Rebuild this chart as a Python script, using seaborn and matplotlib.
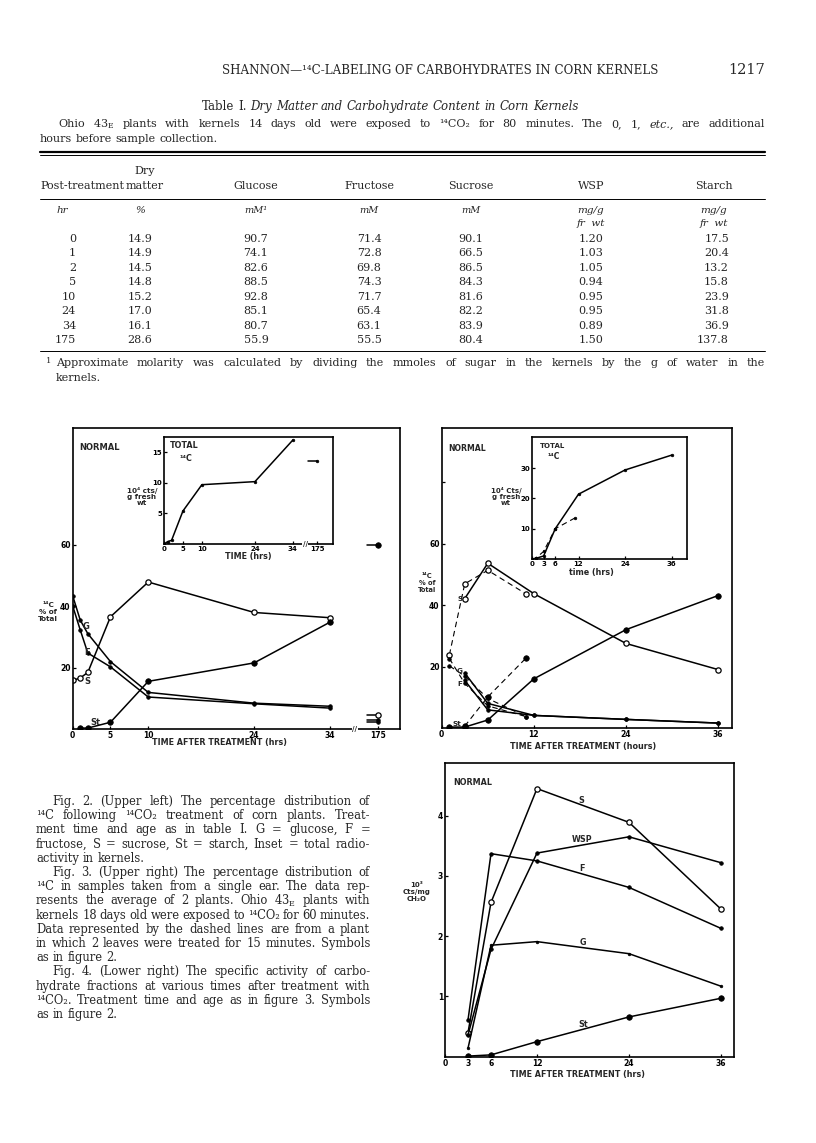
import numpy as np
import pandas as pd
import matplotlib
matplotlib.use("Agg")
import matplotlib.pyplot as plt
import seaborn as sns
from matplotlib.lines import Line2D

# ---------------- Table I ----------------
table_hours = ["0", "1", "2", "5", "10", "24", "34", "175"]
dry_matter = [14.9, 14.9, 14.5, 14.8, 15.2, 17.0, 16.1, 28.6]
glucose = [90.7, 74.1, 82.6, 88.5, 92.8, 85.1, 80.7, 55.9]
fructose = [71.4, 72.8, 69.8, 74.3, 71.7, 65.4, 63.1, 55.5]
sucrose = [90.1, 66.5, 86.5, 84.3, 81.6, 82.2, 83.9, 80.4]
wsp = [1.20, 1.03, 1.05, 0.94, 0.95, 0.95, 0.89, 1.50]
starch = [17.5, 20.4, 13.2, 15.8, 23.9, 31.8, 36.9, 137.8]

# ---------------- Fig. 2: % of total 14C (0-34 h, plus 175 h) ----------------
f2_hours = [0, 1, 2, 5, 10, 24, 34]
f2_sucrose = [15.8, 16.6, 18.4, 36.5, 47.8, 37.9, 36.2]
f2_glucose = [43.3, 35.4, 31.0, 21.9, 11.9, 8.4, 7.4]
f2_fructose = [40.0, 32.2, 24.7, 20.2, 10.4, 8.2, 6.8]
f2_starch = [np.nan, 0.3, 0.3, 2.2, 15.5, 21.5, 34.7]
f2_at175 = [4.4, 2.9, 2.3, 60.0]  # S, G, F, St
f2_total = [0, 0.4, 0.6, 5.4, 9.7, 10.2, 17.0]
f2_total_175 = 13.6

# ---------------- Fig. 3 ----------------
f3_hours = [1, 3, 6, 12, 24, 36]
f3_sucrose = [np.nan, 42.1, 53.6, 43.7, 27.5, 19.0]
f3_glucose = [np.nan, 17.9, 8.0, 4.1, 2.8, 1.6]
f3_fructose = [np.nan, 15.5, 5.9, 4.1, 2.8, 1.6]
f3_starch = [0.3, 0.3, 2.6, 16.0, 32.0, 43.1]
f3d_hours = [1, 3, 6, 11]
f3d_sucrose = [23.8, 46.9, 51.3, 43.6]
f3d_glucose = [20.2, 16.9, 9.6, 3.7]
f3d_fructose = [22.6, 14.5, 7.2, 3.7]
f3d_starch = [np.nan, 0.6, 10.1, 22.8]
f3_total_hours = [0, 1, 3, 6, 12, 24, 36]
f3_total = [0, 0.2, 1.0, 10.0, 21.4, 29.4, 34.3]
f3d_total_hours = [0, 1, 3, 6, 11]
f3d_total = [0, 0.3, 2.5, 10.0, 13.5]

# ---------------- Fig. 4: 10^3 cts/mg CH2O ----------------
f4_hours = [3, 6, 12, 24, 36]
f4_sucrose = [0.40, 2.56, 4.45, 3.89, 2.45]
f4_wsp = [0.36, 1.78, 3.38, 3.65, 3.22]
f4_fructose = [0.61, 3.37, 3.25, 2.81, 2.13]
f4_glucose = [0.14, 1.85, 1.91, 1.71, 1.17]
f4_starch = [0.01, 0.03, 0.25, 0.66, 0.97]

W, H = 816, 1143
sns.set_style("white")
plt.rcParams["font.family"] = ["DejaVu Sans"]
plt.rcParams["mathtext.fontset"] = "dejavuserif"

fig = plt.figure(figsize=(W / 100, H / 100), dpi=100)
fig.patch.set_facecolor("white")
renderer = fig.canvas.get_renderer()

SERIF = "DejaVu Serif"
SANS = "DejaVu Sans"


def fx(x):
    return x / W


def fy(y):
    return 1 - y / H


def put(x, y, s, size=8, ha="left", style="normal", weight="normal", family=SERIF, **kw):
    return fig.text(fx(x), fy(y), s, fontsize=size, ha=ha, va="baseline",
                    fontstyle=style, fontweight=weight, family=family, **kw)


def words(line, x0, x1, y, size=8, justify=True, align="left"):
    toks = [t for t in line.split(" ") if t]
    arts, widths = [], []
    for t in toks:
        style = "normal"
        if t.startswith("_"):
            t, style = t[1:], "italic"
        a = put(0, y, t, size=size, style=style)
        arts.append(a)
        widths.append(a.get_window_extent(renderer).width)
    space = 0.32 * size * 100 / 72
    if justify and len(toks) > 1:
        gap = (x1 - x0 - sum(widths)) / (len(toks) - 1)
    else:
        gap = space
    total = sum(widths) + gap * (len(toks) - 1)
    x = x0 if align == "left" else (x0 + x1 - total) / 2
    for a, w in zip(arts, widths):
        a.set_x(fx(x))
        x += w + gap


def hrule(y, x0=40, x1=765, lw=0.7):
    fig.add_artist(Line2D([fx(x0), fx(x1)], [fy(y), fy(y)],
                          transform=fig.transFigure, color="black", lw=lw))


# ---------------- page header and table ----------------
put(440, 74, "SHANNON—¹⁴C-LABELING OF CARBOHYDRATES IN CORN KERNELS", size=8.6, ha="center")
put(765, 74, "1217", size=10.5, ha="right")
words("Table I. _Dry _Matter _and _Carbohydrate _Content _in _Corn _Kernels", 40, 740, 110,
      size=8.5, justify=False, align="center")
words("Ohio 43$_\\mathrm{E}$ plants with kernels 14 days old were exposed to ¹⁴CO₂ for 80 minutes. "
      "The 0, 1, _etc., are additional", 58, 765, 127, size=8)
words("hours before sample collection.", 40, 765, 142, size=8, justify=False)
hrule(152, lw=1.6)
hrule(155.5, lw=0.7)

cols = [140, 256, 369, 471, 591, 714]
put(145, 174, "Dry", size=8, ha="center")
put(40, 189, "Post-treatment", size=8)
put(145, 189, "matter", size=8, ha="center")
for cx, name in zip(cols[1:], ["Glucose", "Fructose", "Sucrose", "WSP", "Starch"]):
    put(cx, 189, name, size=8, ha="center")
hrule(199)
put(62, 213, "hr", size=7.5, ha="center", style="italic")
put(cols[0], 213, "%", size=7.5, ha="center", style="italic")
put(cols[1], 213, "mM¹", size=7, ha="center", style="italic")
put(cols[2], 213, "mM", size=7, ha="center", style="italic")
put(cols[3], 213, "mM", size=7, ha="center", style="italic")
for cx in cols[4:]:
    put(cx, 213, "mg/g", size=7.5, ha="center", style="italic")
    put(cx, 226, "fr  wt", size=7.5, ha="center", style="italic")

for i, hr in enumerate(table_hours):
    y = 242 + 14.45 * i
    put(76, y, hr, size=8, ha="right")
    put(cols[0], y, f"{dry_matter[i]:.1f}", size=8, ha="center")
    put(cols[1], y, f"{glucose[i]:.1f}", size=8, ha="center")
    put(cols[2], y, f"{fructose[i]:.1f}", size=8, ha="center")
    put(cols[3], y, f"{sucrose[i]:.1f}", size=8, ha="center")
    put(cols[4], y, f"{wsp[i]:.2f}", size=8, ha="center")
    put(729, y, f"{starch[i]:.1f}", size=8, ha="right")
hrule(351)
put(46, 363, "1", size=6)
words("Approximate molarity was calculated by dividing the mmoles of sugar in the kernels by the g of "
      "water in the", 56, 765, 366, size=8)
words("kernels.", 56, 765, 381, size=8, justify=False)

# ---------------- captions ----------------
caption = [
    ("Fig. 2. (Upper left) The percentage distribution of", True, True),
    ("¹⁴C following ¹⁴CO₂ treatment of corn plants. Treat-", False, True),
    ("ment time and age as in table I. G = glucose, F =", False, True),
    ("fructose, S = sucrose, St = starch, Inset = total radio-", False, True),
    ("activity in kernels.", False, False),
    ("Fig. 3. (Upper right) The percentage distribution of", True, True),
    ("¹⁴C in samples taken from a single ear. The data rep-", False, True),
    ("resents the average of 2 plants. Ohio 43$_\\mathrm{E}$ plants with", False, True),
    ("kernels 18 days old were exposed to ¹⁴CO₂ for 60 minutes.", False, True),
    ("Data represented by the dashed lines are from a plant", False, True),
    ("in which 2 leaves were treated for 15 minutes. Symbols", False, True),
    ("as in figure 2.", False, False),
    ("Fig. 4. (Lower right) The specific activity of carbo-", True, True),
    ("hydrate fractions at various times after treatment with", False, True),
    ("¹⁴CO₂. Treatment time and age as in figure 3. Symbols", False, True),
    ("as in figure 2.", False, False),
]
for i, (line, indent, just) in enumerate(caption):
    words(line, 52 if indent else 36, 370, 805 + 14.2 * i, size=8.3, justify=just)


# ---------------- figures ----------------
def ax_px(l, t, r, b):
    return fig.add_axes([fx(l), fy(b), (r - l) / W, (b - t) / H])


MARKS = {
    "open": dict(marker="o", markersize=3.8, markerfacecolor="white", markeredgewidth=0.9),
    "dot": dict(marker="o", markersize=2.6, markerfacecolor="black", markeredgewidth=0.5),
    "small": dict(marker="o", markersize=2.0, markerfacecolor="black", markeredgewidth=0.4),
    "big": dict(marker="o", markersize=4.0, markerfacecolor="black", markeredgewidth=0.5),
}


def series(ax, x, y, kind, dashed=False, lw=1.1, **kw):
    sns.lineplot(x=x, y=y, ax=ax, color="black", lw=lw if not dashed else 0.8,
                 linestyle=(0, (5, 3.5)) if dashed else "-", markeredgecolor="black",
                 errorbar=None, sort=False, **MARKS[kind], **kw)


def style_ax(ax, size=5.5):
    for sp in ax.spines.values():
        sp.set_visible(True)
        sp.set_linewidth(1.2)
        sp.set_color("black")
    ax.tick_params(direction="in", length=2.5, width=0.9, labelsize=size, pad=1.5,
                   colors="black", left=True, bottom=True)
    ax.set_xlabel("")
    ax.set_ylabel("")
    ax.grid(False)
    for lab in ax.get_xticklabels() + ax.get_yticklabels():
        lab.set_fontweight("bold")
        lab.set_family(SANS)


def label(ax, x, y, s, size=5.5, coords="data", ha="center"):
    tr = ax.transData if coords == "data" else ax.transAxes
    ax.text(x, y, s, transform=tr, fontsize=size, fontweight="bold", family=SANS,
            ha=ha, va="center", zorder=5)


def axis_break(ax, x):
    ax.text(x, 0, "//", transform=ax.transData, fontsize=5, fontweight="bold", ha="center",
            va="center", clip_on=False, zorder=6,
            bbox=dict(fc="white", ec="none", pad=0.4))


def ftext(x, y, s, size=5.5, **kw):
    fig.text(fx(x), fy(y), s, fontsize=size, fontweight="bold", family=SANS,
             ha="center", va="center", **kw)


# Fig. 2 main
LATE = 40.4
ax2 = ax_px(72.7, 428, 400, 729)
series(ax2, f2_hours, f2_sucrose, "open")
series(ax2, f2_hours, f2_glucose, "dot")
series(ax2, f2_hours, f2_fructose, "dot")
series(ax2, f2_hours, f2_starch, "big")
for v, kind in zip(f2_at175, ["open", "dot", "dot", "big"]):
    series(ax2, [LATE - 1.5, LATE], [v, v], kind, markevery=[1])
ax2.set_xlim(0, 43.3)
ax2.set_ylim(0, 97.9)
ax2.set_xticks([0, 5, 10, 24, 34, LATE], ["0", "5", "10", "24", "34", "175"])
ax2.set_yticks([20, 40, 60], ["20", "40", "60"])
style_ax(ax2)
axis_break(ax2, 37.3)
label(ax2, 0.02, 0.934, "NORMAL", size=6, coords="axes", ha="left")
label(ax2, 1.75, 33.3, "G", size=6)
label(ax2, 1.9, 24.8, "F", size=6)
label(ax2, 1.95, 15.6, "S", size=6)
label(ax2, 3.0, 2.2, "St", size=6)
ftext(220, 743, "TIME AFTER TREATMENT (hrs)", size=5.8)
ftext(48, 612, "¹⁴C\n% of\nTotal", size=5.2, linespacing=1.15)

# Fig. 2 inset
ax2i = ax_px(164, 437, 333, 544)
ax2i.set_facecolor("white")
series(ax2i, f2_hours, f2_total, "small")
series(ax2i, [LATE - 2.4, LATE], [f2_total_175, f2_total_175], "small", markevery=[1])
ax2i.set_xlim(0, 44.6)
ax2i.set_ylim(0, 17.5)
ax2i.set_xticks([0, 5, 10, 24, 34, LATE], ["0", "5", "10", "24", "34", "175"])
ax2i.set_yticks([5, 10, 15], ["5", "10", "15"])
style_ax(ax2i, size=5)
axis_break(ax2i, 37.3)
label(ax2i, 0.035, 0.92, "TOTAL", size=5.8, coords="axes", ha="left")
label(ax2i, 0.09, 0.8, "¹⁴C", size=5.8, coords="axes", ha="left")
ftext(248, 557, "TIME (hrs)", size=5.8)
ftext(142, 497, "10⁴ cts/\ng fresh\nwt", size=5.2, linespacing=1.0)

# Fig. 3 main
ax3 = ax_px(441.7, 428, 732, 728)
series(ax3, f3_hours, f3_sucrose, "open")
series(ax3, f3_hours, f3_glucose, "dot")
series(ax3, f3_hours, f3_fructose, "dot")
series(ax3, f3_hours, f3_starch, "big")
series(ax3, f3d_hours, f3d_sucrose, "open", dashed=True)
series(ax3, f3d_hours, f3d_glucose, "dot", dashed=True)
series(ax3, f3d_hours, f3d_fructose, "dot", dashed=True)
series(ax3, f3d_hours, f3d_starch, "big", dashed=True)
ax3.set_xlim(0, 37.8)
ax3.set_ylim(0, 97.6)
ax3.set_xticks([0, 12, 24, 36], ["0", "12", "24", "36"])
ax3.set_yticks([20, 40, 60, 80], ["20", "40", "60", ""])
style_ax(ax3)
label(ax3, 0.022, 0.933, "NORMAL", size=5.6, coords="axes", ha="left")
label(ax3, 2.4, 42.0, "S", size=5.2)
label(ax3, 2.3, 18.6, "G", size=5.2)
label(ax3, 2.3, 14.3, "F", size=5.2)
label(ax3, 2.0, 1.2, "St", size=5.2)
ftext(583, 746, "TIME AFTER TREATMENT (hours)", size=5.8)
ftext(427, 583, "¹⁴C\n% of\nTotal", size=4.8, linespacing=1.1)

# Fig. 3 inset
ax3i = ax_px(532, 437, 687, 559)
ax3i.set_facecolor("white")
series(ax3i, f3_total_hours, f3_total, "small")
series(ax3i, f3d_total_hours, f3d_total, "small", dashed=True)
ax3i.set_xlim(0, 40)
ax3i.set_ylim(0, 40.3)
ax3i.set_xticks([0, 3, 6, 12, 24, 36], ["0", "3", "6", "12", "24", "36"])
ax3i.set_yticks([10, 20, 30], ["10", "20", "30"])
style_ax(ax3i, size=5)
label(ax3i, 0.05, 0.93, "TOTAL", size=5, coords="axes", ha="left")
label(ax3i, 0.1, 0.84, "¹⁴C", size=5.5, coords="axes", ha="left")
ftext(591, 572, "time (hrs)", size=5.8)
ftext(506, 497, "10⁴ Cts/\ng fresh\nwt", size=5, linespacing=1.0)

# Fig. 4
ax4 = ax_px(445, 762.7, 734, 1056.7)
series(ax4, f4_hours, f4_sucrose, "open")
series(ax4, f4_hours, f4_wsp, "dot")
series(ax4, f4_hours, f4_fructose, "dot")
series(ax4, f4_hours, f4_glucose, "small")
series(ax4, f4_hours, f4_starch, "big")
ax4.set_xlim(0, 37.7)
ax4.set_ylim(0, 4.88)
ax4.set_xticks([0, 3, 6, 12, 24, 36], ["0", "3", "6", "12", "24", "36"])
ax4.set_yticks([1, 2, 3, 4], ["1", "2", "3", "4"])
style_ax(ax4)
label(ax4, 0.028, 0.931, "NORMAL", size=5.8, coords="axes", ha="left")
label(ax4, 17.8, 4.26, "S", size=5.8)
label(ax4, 17.9, 3.6, "WSP", size=5.8)
label(ax4, 17.8, 3.13, "F", size=5.8)
label(ax4, 18.0, 1.89, "G", size=5.8)
label(ax4, 18.0, 0.54, "St", size=5.8)
ftext(578, 1074, "TIME AFTER TREATMENT (hrs)", size=5.8)
ftext(417, 892, "10³\nCts/mg\nCH₂O", size=5, linespacing=1.15)

fig.savefig("out.png", dpi=100, facecolor="white")
